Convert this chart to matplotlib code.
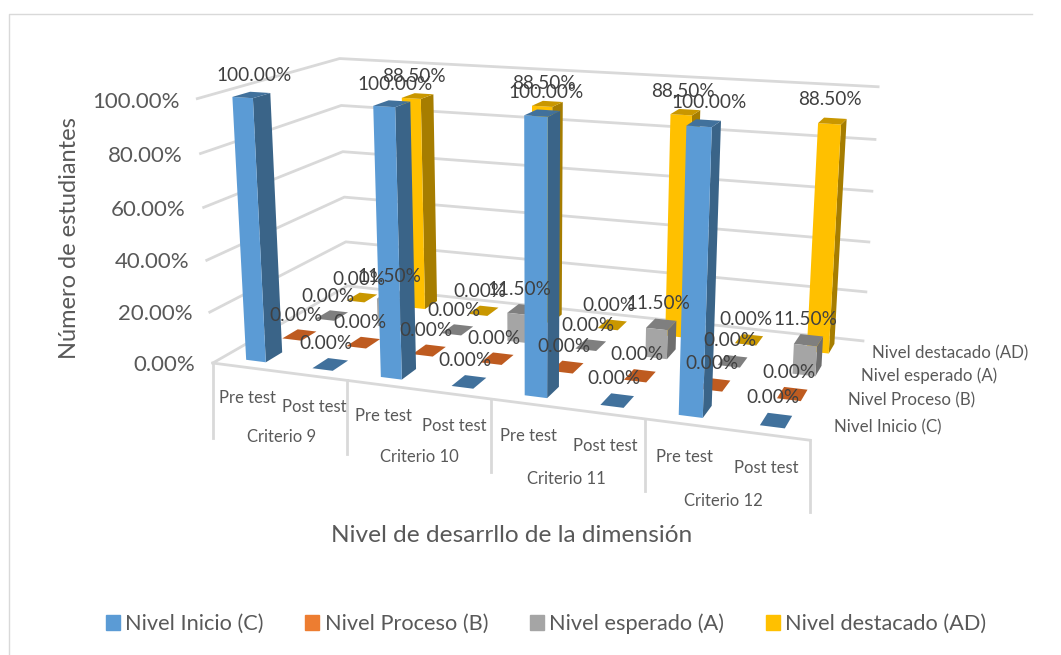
import numpy as np
import matplotlib
matplotlib.use('Agg')
import matplotlib.pyplot as plt
from matplotlib.lines import Line2D
from matplotlib.patches import Patch
from matplotlib.text import Text
from mpl_toolkits.mplot3d import proj3d

plt.rcParams['font.family'] = ['Lato', 'DejaVu Sans']

W, H = 1061, 655

criterios = ['Criterio 9', 'Criterio 10', 'Criterio 11', 'Criterio 12']
sesiones = ['Pre test', 'Post test']
series = ['Nivel Inicio (C)', 'Nivel Proceso (B)', 'Nivel esperado (A)', 'Nivel destacado (AD)']
inicio = [100, 0, 100, 0, 100, 0, 100, 0]
proceso = [0, 0, 0, 0, 0, 0, 0, 0]
esperado = [0, 11.5, 0, 11.5, 0, 11.5, 0, 11.5]
destacado = [0, 88.5, 0, 88.5, 0, 88.5, 0, 88.5]
ticks = [0, 20, 40, 60, 80, 100]

# front, side, top
colores = [('#5B9BD5', '#3A6488', '#41719C'),
           ('#ED7D31', '#A9561F', '#BE5B20'),
           ('#A5A5A5', '#6E6E6E', '#7F7F7F'),
           ('#FFC000', '#A67D00', '#C99700')]
leyenda = ['#5B9BD5', '#ED7D31', '#A5A5A5', '#FFC000']

fig = plt.figure(figsize=(W / 100, H / 100), dpi=100)
# Axes3D forces a square box, so make it square and let it overflow the figure
ax = fig.add_axes([0, (H - W) / 2 / H, 1, W / H], projection='3d')
ax.set_axis_off()
ax.computed_zorder = False
ax.apply_aspect()

# camera fitted on the corners of the chart box as they sit in the picture
caja = [(0, 0, 0), (8, 0, 0), (0, 4, 0), (8, 4, 0), (0, 0, 100), (0, 4, 100), (8, 4, 100)]
pix = [(213, 362), (810, 441), (347, 287), (863, 340), (197, 99), (340, 58), (878, 87)]
uv = ax.transData.inverted().transform([(a, H - b) for a, b in pix])
A, B = [], []
for (X, Y, Z), (u, v) in zip(caja, uv):
    A.append([X, Y, Z, 1, 0, 0, 0, 0, -u * X, -u * Y, -u * Z])
    A.append([0, 0, 0, 0, X, Y, Z, 1, -v * X, -v * Y, -v * Z])
    B += [u, v]
p = np.linalg.lstsq(np.array(A, float), np.array(B), rcond=None)[0]
fila_w = np.array([p[8], p[9], p[10], 1.0])
M = np.array([p[:4], p[4:8], fila_w - [0, 0, 0, 0.5], fila_w])
ax.get_proj = lambda: M
ax.M = M
por_px = (ax.transData.inverted().transform((1, 0)) - ax.transData.inverted().transform((0, 0)))[0]

GRID = '#D9D9D9'


def linea(xs, ys, zs):
    u, v, _ = proj3d.proj_transform(np.array(xs, float), np.array(ys, float), np.array(zs, float), M)
    ax.add_line(Line2D(u, v, color=GRID, lw=2, zorder=1))


def texto(x, y, z, s, **kw):
    u, v, _ = proj3d.proj_transform(x, y, z, M)
    ax.add_artist(Text(float(u), float(v), s, va='center', zorder=100, **kw))


for z in ticks:
    linea([0, 0, 8], [0, 4, 4], [z, z, z])
linea([0, 8], [0, 0], [0, 0])

# vertical separators of the category axis stay upright in the picture
for i, largo in zip([0, 2, 4, 6, 8], [75, 74, 73, 72, 72]):
    u, v, _ = proj3d.proj_transform(i, 0, 0, M)
    ax.add_line(Line2D([u, u], [v, v - largo * por_px], color=GRID, lw=2, zorder=1))

dx, dy = 0.3, 0.45
valores = [inicio, proceso, esperado, destacado]
orden = 2
for j in [3, 2, 1, 0]:
    fr, sd, tp = colores[j]
    caras = ['none', tp, fr, 'none', 'none', sd]
    for i, h in enumerate(valores[j]):
        ax.bar3d(i + 0.5 - dx / 2, j + 0.5 - dy / 2, 0, dx, dy, h, color=caras,
                 shade=False, linewidth=0, zorder=orden)
        orden += 1

TXT = '#404040'
for j in range(4):
    for i, h in enumerate(valores[j]):
        if h == 100:
            texto(i + 0.55, j + 0.5, h + 7, '%.2f%%' % h, color=TXT, fontsize=13.7, ha='center')
        else:
            texto(i + 0.45, j + 0.5, h + 8, '%.2f%%' % h, color=TXT, fontsize=13.7, ha='center')

GR = '#595959'
for z in ticks:
    texto(-0.27, 0, z - 1.5, '%.2f%%' % z, color=GR, fontsize=16, ha='right')
for i in range(8):
    texto(i + 0.5, 0, -12, sesiones[i % 2], color=GR, fontsize=12, ha='center')
for k, c in enumerate(criterios):
    texto(2 * k + 1, 0, -26, c, color=GR, fontsize=12, ha='center')
for j, s in enumerate(series):
    texto(8.2, j + 0.5, 0, s, color=GR, fontsize=12.2, ha='left')

fig.text(70 / W, 1 - 238 / H, 'Número de estudiantes', color=GR, fontsize=17,
         rotation=90, ha='center', va='center')
fig.text(512 / W, 1 - 535 / H, 'Nivel de desarrllo de la dimensión', color=GR, fontsize=17.6,
         ha='center', va='center')

fig.legend(handles=[Patch(color=c, label=s) for c, s in zip(leyenda, series)], ncol=4, loc='center',
           bbox_to_anchor=(546 / W, 1 - 624 / H), frameon=False, fontsize=15.7, labelcolor=GR,
           handlelength=0.65, handleheight=0.65, handletextpad=0.25, columnspacing=1.9)

fig.add_artist(Line2D([9 / W, 9 / W, 1032 / W], [0, 1 - 14 / H, 1 - 14 / H], color='#D9D9D9', lw=1))

fig.savefig('out.png', dpi=100)
